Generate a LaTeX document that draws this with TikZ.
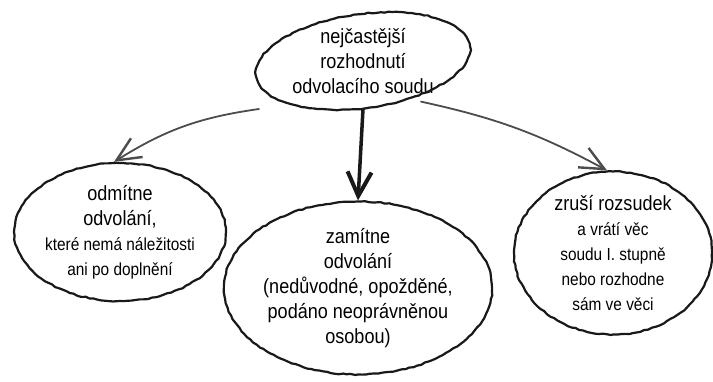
\documentclass[tikz,border=0pt]{standalone}
\usepackage{fontspec}
\setmainfont[FakeStretch=0.88]{Liberation Sans}
\usetikzlibrary{shapes.geometric,arrows.meta,decorations.pathmorphing}
\tikzstyle{pencil} = [draw=black!90, line width=2.2pt, line join=round, decorate,
  decoration={random steps, segment length=4pt, amplitude=0.6pt}]
\tikzstyle{bubble} = [ellipse, pencil, align=center, inner sep=0pt, font=\bigtxt]
\tikzstyle{link} = [draw=black!70, line width=1.8pt, line cap=round,
  -{Straight Barb[length=24pt,width=22pt,line width=2.4pt]}]
\newcommand{\bigtxt}{\fontsize{20.5}{25}\selectfont}
\newcommand{\smalltxt}{\fontsize{17.5}{22.5}\selectfont}

\begin{document}
\begin{tikzpicture}[x=1pt, y=-1pt]
  \useasboundingbox (0,0) rectangle (713,382);
  % the question in the middle
  \node (hub) [ellipse, align=center, minimum width=216pt, minimum height=96pt, inner sep=0pt, font=\bigtxt]
    at (363,61) {nejčastější\\ rozhodnutí\\ odvolacího soudu};
  \draw[pencil, rotate around={8:(hub.center)}] (hub.center) ellipse [x radius=108, y radius=47];
  % the three answers
  \node (odm) [bubble, minimum width=210pt, minimum height=138pt] at (120,232)
    {odmítne\\ odvolání,\\ \smalltxt které nemá náležitosti\\ \smalltxt ani po doplnění};
  \node (zam) [bubble, minimum width=207pt, minimum height=173pt] at (358,288)
    {zamítne\\ odvolání\\ (nedůvodné, opožděné,\\ podáno neoprávněnou\\ osobou)};
  \node (zru) [bubble, minimum width=198pt, minimum height=154pt] at (613,253)
    {zruší rozsudek\\ \smalltxt a vrátí věc\\ \smalltxt soudu I. stupně\\ \smalltxt nebo rozhodne\\ \smalltxt sám ve věci};
  % arrows
  \draw[link] ([shift={(-104pt,-48pt)}]hub.center) to[bend right=12] ([xshift=-6pt]odm.north);
  \draw[link, draw=black!90, line width=3.5pt, -{Straight Barb[length=24pt,width=24pt,line width=4pt]}]
    (hub.south) -- (zam.north);
  \draw[link] (hub.-35) to[bend left=8] ([xshift=-6pt]zru.north);
\end{tikzpicture}
\end{document}
